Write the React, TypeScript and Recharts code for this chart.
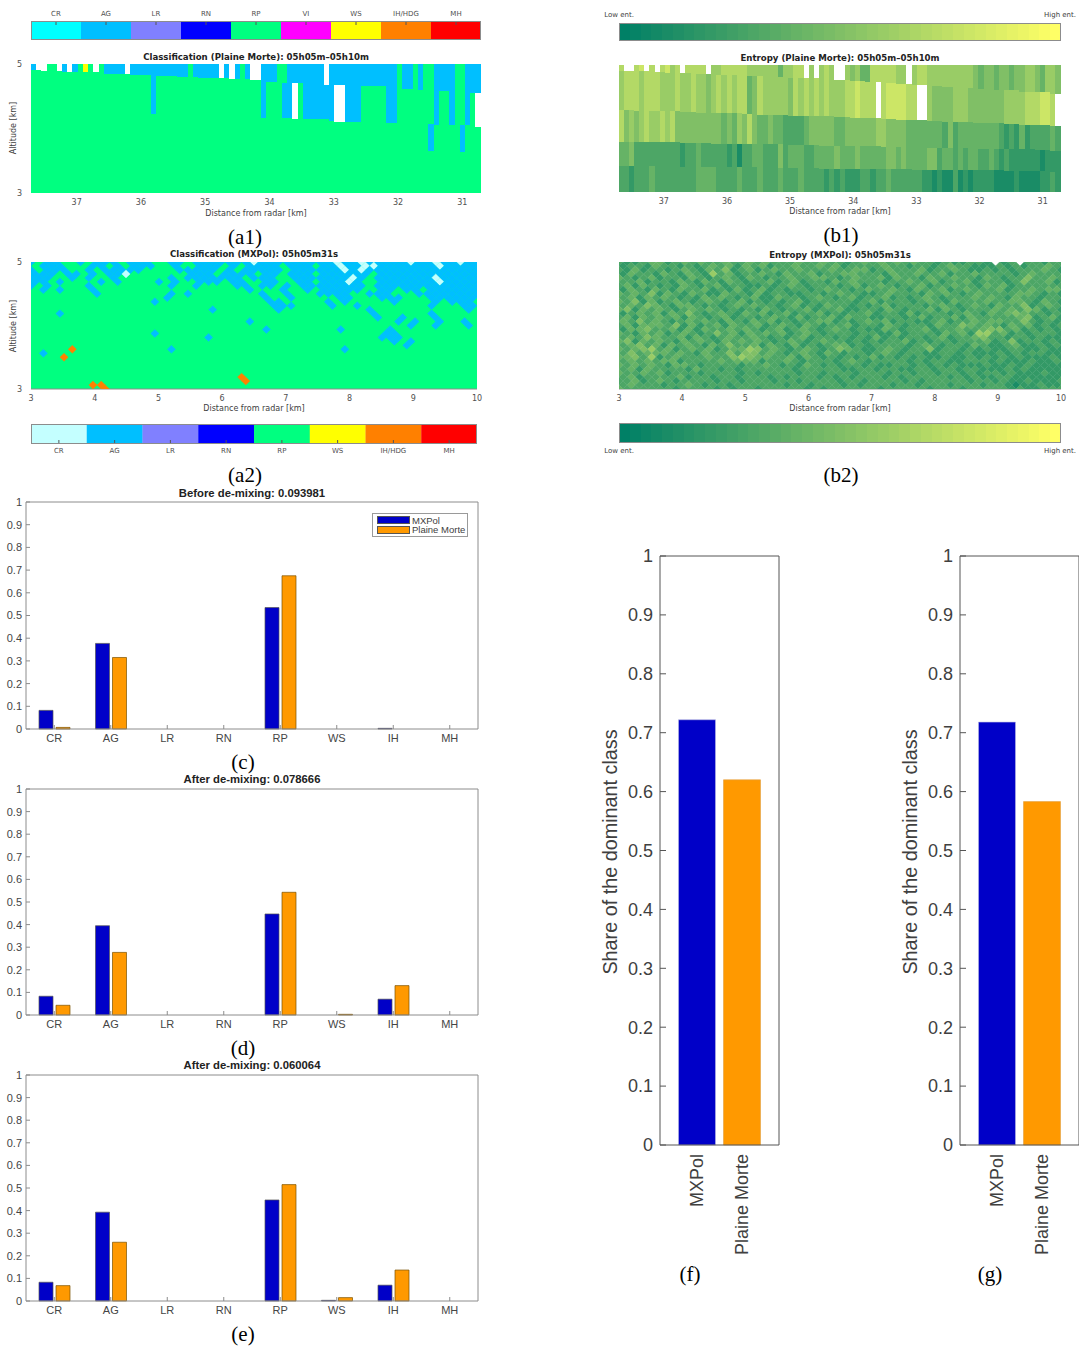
import React from 'react';
import {
    Bar, BarChart, Cell, ComposedChart, Legend, ReferenceArea, Scatter, ScatterChart, XAxis, YAxis,
} from 'recharts';

const SANS = '"Liberation Sans", Arial, sans-serif';
const MAP_FONT = '"DejaVu Sans", sans-serif';
const SERIF = '"Liberation Serif", serif';

const BLUE = '#0000c8';
const ORANGE = '#ff9900';

const classColors: Record<string, string> = {
    CR: '#00ffff', AG: '#00bfff', LR: '#8080ff', RN: '#0000ff', RP: '#00ff80',
    VI: '#ff00ff', WS: '#ffff00', 'IH/HDG': '#ff8000', MH: '#ff0000',
};
const PALE_CR = '#c4ffff';

const legendTop = ['CR', 'AG', 'LR', 'RN', 'RP', 'VI', 'WS', 'IH/HDG', 'MH'];
const legendBottom = ['CR', 'AG', 'LR', 'RN', 'RP', 'WS', 'IH/HDG', 'MH'];

const categories = ['CR', 'AG', 'LR', 'RN', 'RP', 'WS', 'IH', 'MH'];
const mxpolC = [0.082, 0.377, 0, 0, 0.535, 0, 0.003, 0];
const plaineC = [0.007, 0.315, 0, 0, 0.675, 0, 0, 0];
const mxpolD = [0.083, 0.395, 0, 0, 0.447, 0, 0.07, 0];
const plaineD = [0.043, 0.277, 0, 0, 0.543, 0.003, 0.13, 0];
const mxpolE = [0.083, 0.393, 0, 0, 0.447, 0.003, 0.07, 0];
const plaineE = [0.068, 0.26, 0, 0, 0.515, 0.015, 0.137, 0];

const radars = ['MXPol', 'Plaine Morte'];
const shareF = [0.722, 0.62];
const shareG = [0.718, 0.583];

const unitTicks = [0, 0.1, 0.2, 0.3, 0.4, 0.5, 0.6, 0.7, 0.8, 0.9, 1];
const farTicks = [37, 36, 35, 34, 33, 32, 31];
const nearTicks = [3, 4, 5, 6, 7, 8, 9, 10];

// colour bar steps of the entropy scale
const rampSteps = [
    0, 0.025, 0.05, 0.075, 0.1, 0.125, 0.15, 0.175, 0.2, 0.225, 0.25, 0.275, 0.3, 0.325, 0.35, 0.375,
    0.4, 0.425, 0.45, 0.475, 0.5, 0.525, 0.55, 0.575, 0.6, 0.625, 0.65, 0.675, 0.7, 0.725, 0.75, 0.775,
    0.8, 0.825, 0.85, 0.875, 0.9, 0.925, 0.95, 0.975, 1,
];

// (a1) one entry per ray, bottom-up: class and altitude of the top of the run. W = no data
const a1Rays: [string, number][][] = [
    [['RP', 4.91], ['AG', 5]], [['RP', 4.91], ['W', 5]], [['RP', 4.89], ['W', 5]], [['RP', 5]], [['RP', 5]],
    [['RP', 4.89], ['W', 5]], [['RP', 4.88], ['AG', 5]], [['RP', 4.88], ['W', 5]], [['RP', 4.88], ['AG', 5]], [['RP', 5]],
    [['RP', 4.87], ['WS', 5]], [['RP', 5]], [['RP', 4.87], ['W', 5]], [['RP', 5]], [['RP', 4.85], ['AG', 5]],
    [['RP', 4.85], ['AG', 5]], [['RP', 4.85], ['AG', 5]], [['RP', 4.85], ['AG', 5]], [['RP', 4.85], ['W', 5]], [['RP', 4.83], ['AG', 5]],
    [['RP', 4.83], ['AG', 5]], [['RP', 4.83], ['AG', 5]], [['RP', 4.83], ['AG', 5]], [['RP', 4.22], ['AG', 5]], [['RP', 4.81], ['AG', 5]],
    [['RP', 4.81], ['AG', 5]], [['RP', 4.81], ['AG', 5]], [['RP', 4.81], ['AG', 5]], [['RP', 4.8], ['AG', 5]], [['RP', 4.8], ['AG', 5]],
    [['RP', 5]], [['RP', 4.8], ['AG', 5]], [['RP', 4.79], ['AG', 5]], [['RP', 4.79], ['AG', 5]], [['RP', 4.79], ['AG', 5]],
    [['RP', 4.79], ['AG', 5]], [['RP', 4.78], ['W', 5]], [['RP', 4.78], ['AG', 5]], [['RP', 4.77], ['W', 5]], [['RP', 4.77], ['AG', 5]],
    [['RP', 5]], [['RP', 4.76], ['AG', 5]], [['RP', 4.75], ['W', 5]], [['RP', 4.75], ['W', 5]], [['RP', 4.16], ['AG', 5]],
    [['RP', 4.72], ['AG', 5]], [['RP', 4.72], ['AG', 5]], [['RP', 5]], [['RP', 4.16], ['AG', 4.7], ['RP', 5]], [['RP', 4.16], ['AG', 5]],
    [['RP', 4.15], ['W', 4.71], ['AG', 5]], [['RP', 4.71], ['AG', 5]], [['RP', 4.14], ['AG', 5]], [['RP', 4.14], ['AG', 5]], [['RP', 4.14], ['AG', 5]],
    [['RP', 4.14], ['AG', 5]], [['RP', 4.14], ['AG', 4.68], ['W', 5]], [['RP', 4.12], ['AG', 5]], [['RP', 4.1], ['W', 4.67], ['AG', 5]], [['RP', 4.1], ['W', 4.67], ['AG', 5]],
    [['RP', 4.1], ['AG', 5]], [['RP', 4.1], ['AG', 5]], [['RP', 4.1], ['AG', 5]], [['RP', 4.66], ['AG', 5]], [['RP', 4.66], ['AG', 5]],
    [['RP', 4.66], ['AG', 5]], [['RP', 4.66], ['AG', 5]], [['RP', 4.66], ['AG', 5]], [['RP', 4.09], ['AG', 5]], [['RP', 4.09], ['AG', 5]],
    [['RP', 5]], [['RP', 4.61], ['AG', 5]], [['RP', 4.61], ['AG', 5]], [['RP', 5]], [['RP', 4.6], ['AG', 5]],
    [['RP', 5]], [['RP', 3.65], ['AG', 4.07], ['RP', 5]], [['RP', 4.05], ['AG', 5]], [['RP', 4.58], ['AG', 5]], [['RP', 4.58], ['AG', 5]],
    [['RP', 4.05], ['AG', 5]], [['RP', 5]], [['RP', 3.64], ['AG', 4.05], ['RP', 5]], [['RP', 4.05], ['AG', 5]], [['RP', 4.55], ['AG', 5]],
    [['RP', 4.03], ['W', 4.55], ['AG', 5]],
];

// (b1) entropy per ray in tenths, one string per height band, top band first. w = no data
const b1Bands = [
    '7ww78w7w78 67w7777w66 7777766666 6466 77w6w6 76ww656447 777766w677 6666666665 4554554556 654665',
    '6777677766 6766766567 6767745766 6665767676 7666778777 w7888877ww 6555566655 5555566667 77887w',
    '7565676676 7555555555 4546575445 4433334555 5544555555 6655554444 4443534444 4444323242 333343',
    '4453333333 3323343333 3231334433 3534443344 4454445444 4455454444 5534434344 3343232222 221222',
    '3323334333 3333344443 3334333433 3433343333 2323222332 3343333332 2121131212 2221111211 112232',
];
// altitude of the band bottoms, read every three rays from the left
const b1BandBottoms = [
    [4.91, 4.9, 4.89, 4.88, 4.87, 4.86, 4.85, 4.84, 4.83, 4.82, 4.81, 4.8, 4.79, 4.77, 4.76, 4.75, 4.73, 4.72, 4.7, 4.68, 4.67, 4.65, 4.64, 4.62, 4.61, 4.6, 4.58, 4.57, 4.55],
    [4.29, 4.28, 4.28, 4.27, 4.26, 4.25, 4.25, 4.24, 4.23, 4.22, 4.21, 4.2, 4.2, 4.19, 4.18, 4.17, 4.16, 4.15, 4.14, 4.13, 4.12, 4.11, 4.1, 4.09, 4.08, 4.07, 4.06, 4.05, 4.04],
    [3.79, 3.79, 3.78, 3.78, 3.77, 3.77, 3.76, 3.76, 3.76, 3.75, 3.75, 3.74, 3.74, 3.73, 3.73, 3.72, 3.72, 3.71, 3.71, 3.7, 3.7, 3.69, 3.69, 3.68, 3.68, 3.67, 3.67, 3.66, 3.65],
    [3.41, 3.41, 3.41, 3.4, 3.4, 3.4, 3.39, 3.39, 3.39, 3.38, 3.38, 3.38, 3.38, 3.37, 3.37, 3.37, 3.36, 3.36, 3.36, 3.35, 3.35, 3.35, 3.34, 3.34, 3.34, 3.33, 3.33, 3.33, 3.32],
];

// (a2) staggered tiles, top row first. a = AG, c = CR, o = IH, rest RP
const a2Rows = [
    'a.aa. .a.aa a.aaa ..aa. aaaaa aacaa aaaaa aacaa caaaa acaac aacaa',
    '.aaa. ..aa. a.aaa ..a.. aaa.a .aaaa .aaa. aacaa ccaaa aaaac aaaa',
    'a.aaa ..a.a aaaa. ...aa aaa.a .aaaa a.aaa aaaca caaaa aaaaa aaaaa',
    'aaa.a a.a.a ac... ....a aa.aa aa.aa .aaa. aaaaa a.aaa aaaaa aaaa',
    'aaa.. a.a.. a.... ..a.a aaaaa a.aaa ..aaa aaaac a.aaa aaaac aaaaa',
    'aa.a. ...a. a.... a.a.. aaa.a a..aa ..aa. aaaca ..aaa aaaac aaaa',
    'a.a.. ..a.. ..... ..a.. a.... aa.aa .a.aa aaaaa a.aaa aaaaa aaaaa',
    '.a.a. ..a.. ..... ..... ..... .a... a..a. aaaaa ..aa. aa.aa aaaa',
    '..... ...a. ..... ..a.a ..... ...a. .a... aaaa. .aaa. ..aaa aaaaa',
    '..... ..... ..... .a... ..... ...a. .a... ..aa. ..aaa ...aa aaaa',
    '..... ..... ..... a.... ..... ....a a.... .a.a. ....a ....a .aaa.',
    '..... ..... ..... ..... ..... ....a aa... .a..a ..... ...a. ..aa',
    '..... ..... ..... ..... ..a.. ..... a.... ..... .a... ..... ...a.',
    '...a. ..... ..... ..... ..... ..... ..... ..... .a... ...a. ....',
    '..... ..... ..... ..... ..... ..... ..... ..... ..a.. a...a .....',
    '..... ..... ..... ..... ..... .a... ..... ..... ....a .a..a ..a.',
    '..... ..... ..... ..... ..... ..... ..... ..... ..... .a..a ...a.',
    '..... ..... ..... ..... ..... ...a. ..... ..a.. ...a. ..... ....',
    '..... ..... ..... a.... ..... ..... ..... ..... ...aa ..... .....',
    '..... ..... ..... ..... .a... ..... ..... ..... ..aaa ..... ....',
    '..... ..... ..... ..... ..... ..... ..... ..... ....a .a... .....',
    '..... ..... ..... ..... ..... ..... ..... ..... ..... a.... ....',
    '..... o.... ..... ..a.. ..... ..... ..... ...a. ..... ..... .....',
    '.a... ..... ..... ..... ..... ..... ..... ..... ..... ..... ....',
    '....o',
    '', '', '', '',
    '..... ..... ..... ..... ..... o',
    '..... ..... ..... ..... ..... .o',
    '..... ..oo.',
    '..... ....o',
];

// (b2) entropy in tenths on the same tiles. w = no data
const b2Rows = [
    '32234 42343 43343 34343 33433 43323 43434 34332 32233 2w23w 33233',
    '23324 33232 34342 43423 34334 34233 33433 23323 43322 23232 3343',
    '32423 32343 24352 34234 33433 34334 42343 33423 34322 32323 33432',
    '24332 43243 26342 33432 43342 33443 33243 34334 23343 33323 4333',
    '43234 23324 32343 24323 34334 43234 33424 33243 34332 43233 53343',
    '33423 32432 43243 23342 34233 24343 33233 43342 33423 33235 3342',
    '34243 23243 23423 32232 34323 33234 23432 33423 34332 43423 33333',
    '24324 32433 42324 23423 23323 43323 43343 24334 23433 34233 4344',
    '43435 24324 32243 32423 32233 23433 22343 33243 43234 33334 43232',
    '34243 43232 43432 34224 33234 32342 33423 23432 33343 43243 3233',
    '43524 23432 34323 42323 23423 33332 34233 32343 24333 43344 32432',
    '34354 32443 23234 34332 34232 43323 23423 33234 32343 24335 2343',
    '45243 43234 34323 23243 23342 33422 33243 23342 43233 34343 54232',
    '23434 24353 23432 43423 42334 23233 42332 42333 23432 43454 3323',
    '34243 43424 32342 33234 32423 34243 32233 23423 34243 33334 52342',
    '43534 32343 43243 24342 32334 42323 43423 32234 23343 44335 3232',
    '34244 43524 23424 33423 43243 23342 33243 23324 33543 43243 42323',
    '24453 34242 43343 43234 23432 34323 22432 33423 34334 55342 3232',
    '43243 42343 23534 24343 42343 23332 33224 23332 43426 63423 23332',
    '34354 33424 32343 34323 23423 32323 24232 33234 23345 33233 2322',
    '45243 43243 43243 43432 34323 43323 23233 42323 32333 42352 33232',
    '34534 24343 24353 34243 24232 34423 23333 23432 33243 22342 2323',
    '43456 34234 34234 46534 32343 23543 22343 23352 33232 32233 22322',
    '35344 43432 43353 55343 23432 43233 23432 33223 32322 23232 3322',
    '44536 23433 34335 65443 34243 23232 34232 32322 32232 32323 22232',
    '34343 44233 33434 44233 43233 32343 23333 23233 22333 23222 3223',
    '43434 32443 23333 23343 23243 23233 23223 32323 23222 32232 32222',
    '34243 33324 33232 33333 32333 33223 32332 23323 32332 22323 2222',
    '43343 42333 23333 23233 33233 23332 33323 32332 33232 33232 22322',
    '34233 33423 32332 33323 23332 32323 33232 33333 23232 23322 2222',
    '33423 43233 33233 23332 33233 33233 23333 23233 33323 32322 32223',
    '34333 23343 23323 33333 23323 33232 33323 32333 23332 33212 2322',
    '43333 33233 33232 33233 33323 23333 33233 33323 33233 33323 22333',
];

const summer = (t: number) =>
    `rgb(${Math.round(t * 255)},${Math.round((0.5 + 0.5 * t) * 255)},102)`;

const FAR_LEFT = 37.71;
const FAR_RIGHT = 30.71;
const RAY_COUNT = a1Rays.length;
const rayKm = (i: number) => FAR_LEFT - ((i + 0.5) * (FAR_LEFT - FAR_RIGHT)) / RAY_COUNT;

const a1Table = a1Rays.map((runs, i) => {
    const row: Record<string, number | string> = { km: rayKm(i) };
    let base = 3;
    runs.forEach(([cls, top], k) => {
        row[`s${k}`] = top - base;
        row[`c${k}`] = cls === 'W' ? '#ffffff' : classColors[cls];
        base = top;
    });
    return row;
});

const bandStrings = b1Bands.map((b) => b.replace(/ /g, ''));
const b1Table = Array.from({ length: RAY_COUNT }, (_, i) => {
    const row: Record<string, number | string> = { km: rayKm(i) };
    const group = Math.floor(i / 3);
    const edges = [3, ...[...b1BandBottoms].reverse().map((b) => b[group]), 5];
    [4, 3, 2, 1, 0].forEach((band, k) => {
        const ch = bandStrings[band][i] ?? '3';
        row[`s${k}`] = edges[k + 1] - edges[k];
        row[`c${k}`] = ch === 'w' ? '#ffffff' : summer(Number(ch) / 10);
    });
    return row;
});

const tiles = (rows: string[]) => {
    const out: { x: number; y: number; v: string }[] = [];
    rows.forEach((line, r) => {
        const chars = line.replace(/ /g, '');
        const n = r % 2 === 0 ? 55 : 54;
        for (let c = 0; c < n; c += 1) {
            const col = r % 2 === 0 ? c : c + 0.5;
            out.push({ x: 3 + (col * 7) / 54, y: 5 - (r * 2) / 32, v: chars[c] ?? '.' });
        }
    });
    return out;
};

const a2Tiles = tiles(a2Rows).filter((t) => t.v !== '.');
const b2Tiles = tiles(b2Rows);

const a2Fill = (v: string) => (v === 'a' ? classColors.AG : v === 'c' ? PALE_CR : classColors['IH/HDG']);
const b2Fill = (v: string) => (v === 'w' ? '#ffffff' : summer(Number(v) / 10));

function Txt({ x, y, size = 8, bold, font = MAP_FONT, color = '#404040', rot = 0, children }: any) {
    return (
        <div
            style={{
                position: 'absolute', left: x, top: y, transform: `translate(-50%,-50%) rotate(${rot}deg)`,
                fontFamily: font, fontSize: size, fontWeight: bold ? 700 : 400, color, whiteSpace: 'nowrap', lineHeight: 1,
            }}
        >
            {children}
        </div>
    );
}

const Caption = ({ x, y, children }: any) => (
    <Txt x={x} y={y} size={21} font={SERIF} color="#000">{children}</Txt>
);

function ClassBar({ x, y, w, h, names, pale, labelsOnTop }: any) {
    const data = names.map((name: string) => ({ name, one: 1 }));
    const color = (n: string) => (pale && n === 'CR' ? PALE_CR : classColors[n]);
    const mt = labelsOnTop ? 14 : 0;
    const mb = labelsOnTop ? 0 : 14;
    return (
        <div style={{ position: 'absolute', left: x, top: y - mt }}>
            <BarChart width={w} height={h + mt + mb} data={data} margin={{ top: 0, right: 0, bottom: 0, left: 0 }} barCategoryGap={0}>
                <YAxis hide domain={[0, 1]} />
                <Bar dataKey="one" isAnimationActive={false}>
                    {data.map((d: any) => <Cell key={d.name} fill={color(d.name)} />)}
                </Bar>
                <XAxis
                    dataKey="name"
                    orientation={labelsOnTop ? 'top' : 'bottom'}
                    height={labelsOnTop ? mt : mb}
                    interval={0}
                    axisLine={false}
                    tickSize={-4}
                    tickMargin={labelsOnTop ? 9 : 8}
                    tickLine={{ stroke: '#555' }}
                    tick={{ fontSize: 7, fontFamily: MAP_FONT, fill: '#505050' }}
                />
            </BarChart>
            <div style={{ position: 'absolute', left: 0, top: mt, width: w, height: h, boxSizing: 'border-box', border: '1px solid #8c8c8c' }} />
        </div>
    );
}

function RampBar({ x, y, w, h }: any) {
    const data = rampSteps.map((t) => ({ t, one: 1 }));
    return (
        <div style={{ position: 'absolute', left: x, top: y }}>
            <BarChart width={w} height={h} data={data} margin={{ top: 0, right: 0, bottom: 0, left: 0 }} barCategoryGap={0}>
                <XAxis hide dataKey="t" />
                <YAxis hide domain={[0, 1]} />
                <Bar dataKey="one" isAnimationActive={false} shape={(p: any) => (
                    <rect x={p.x} y={p.y} width={p.width + 0.6} height={p.height} fill={summer(p.payload.t)} shapeRendering="crispEdges" />
                )} />
            </BarChart>
            <div style={{ position: 'absolute', left: 0, top: 0, width: w, height: h, boxSizing: 'border-box', border: '1px solid #8c8c8c' }} />
        </div>
    );
}

const rayShape = (k: number) => (p: any) => {
    const fill = p.payload[`c${k}`];
    if (!fill || !p.height) return <g />;
    return <rect x={p.x - 0.4} y={p.y - 0.3} width={p.width + 0.8} height={p.height + 0.3} fill={fill} shapeRendering="crispEdges" />;
};

function RayMap({ x, y, w, h, table, segments, showY, axisColor }: any) {
    const ml = 24;
    const mt = 6;
    return (
        <div style={{ position: 'absolute', left: x - ml, top: y - mt }}>
            <ComposedChart width={w + ml + 2} height={h + mt + 16} data={table} margin={{ top: mt, right: 2, bottom: 0, left: 0 }}>
                {Array.from({ length: segments }, (_, k) => (
                    <Bar key={k} dataKey={`s${k}`} stackId="m" barSize={w / RAY_COUNT} isAnimationActive={false} shape={rayShape(k)} />
                ))}
                <XAxis
                    dataKey="km" type="number" reversed domain={[FAR_RIGHT, FAR_LEFT]} ticks={farTicks} interval={0}
                    height={16} axisLine={false} tickLine={false} tickMargin={0}
                    tick={{ fontSize: 8, fontFamily: MAP_FONT, fill: axisColor }}
                />
                <YAxis
                    width={ml} domain={[0, 2]} ticks={[0, 2]} interval={0} axisLine={false} tickLine={false} tickMargin={3}
                    tick={showY ? { fontSize: 8, fontFamily: MAP_FONT, fill: axisColor } : false}
                    tickFormatter={(v: number) => String(v + 3)}
                />
            </ComposedChart>
        </div>
    );
}

const tileShape = (w: number, h: number, fill: (v: string) => string) => (p: any) => {
    const c = fill(p.payload.v);
    return (
        <polygon
            points={`${p.cx},${p.cy - h / 2} ${p.cx + w / 2},${p.cy} ${p.cx},${p.cy + h / 2} ${p.cx - w / 2},${p.cy}`}
            fill={c} stroke={c} strokeWidth={0.4}
        />
    );
};

function TileMap({ x, y, w, h, data, fill, base, showY }: any) {
    const ml = 24;
    const mt = 6;
    return (
        <div style={{ position: 'absolute', left: x - ml, top: y - mt }}>
            <ScatterChart width={w + ml + 10} height={h + mt + 16} margin={{ top: mt, right: 10, bottom: 0, left: 0 }}>
                {base && <ReferenceArea x1={3} x2={10} y1={3} y2={5} fill={base} fillOpacity={1} stroke="none" />}
                <XAxis
                    dataKey="x" type="number" domain={[3, 10]} ticks={nearTicks} interval={0} allowDataOverflow
                    height={16} axisLine={{ stroke: '#8c8c8c' }} tickLine={false} tickMargin={0}
                    tick={{ fontSize: 8, fontFamily: MAP_FONT, fill: '#505050' }}
                />
                <YAxis
                    dataKey="y" type="number" width={ml} domain={[3, 5]} ticks={[3, 5]} interval={0} allowDataOverflow
                    axisLine={false} tickLine={false} tickMargin={3}
                    tick={showY ? { fontSize: 8, fontFamily: MAP_FONT, fill: '#505050' } : false}
                />
                <Scatter data={data} isAnimationActive={false} shape={tileShape(w / 54, (h * 2) / 32, fill)} />
            </ScatterChart>
        </div>
    );
}

const LegendBox = () => (
    <div style={{ width: 96, height: 24, boxSizing: 'border-box', border: '1px solid #9a9a9a', background: '#fff', position: 'relative', fontFamily: SANS, fontSize: 9.5, color: '#404040', lineHeight: '9.5px' }}>
        {[['MXPol', BLUE], ['Plaine Morte', ORANGE]].map(([name, color], i) => (
            <div key={name} style={{ position: 'absolute', left: 4, top: 1.5 + i * 9.5, display: 'flex', alignItems: 'center', whiteSpace: 'nowrap' }}>
                <span style={{ display: 'inline-block', width: 31, height: 6, background: color, border: '0.5px solid #555', marginRight: 2 }} />
                {name}
            </div>
        ))}
    </div>
);

function GroupedBars({ y, h, mx, pm, showLegend }: any) {
    const left = 26;
    const w = 452;
    const ml = 26;
    const mt = 6;
    const mb = 20;
    const data = categories.map((cat, i) => ({ cat, mx: mx[i], pm: pm[i] }));
    const axis = '#8c8c8c';
    const tick = { fontSize: 11, fontFamily: SANS, fill: '#454545' };
    return (
        <div style={{ position: 'absolute', left: left - ml, top: y - mt }}>
            <BarChart
                width={w + ml + 2} height={h + mt + mb} data={data}
                margin={{ top: mt - 1, right: 1, bottom: 0, left: 0 }} barCategoryGap="47%" barGap={3}
            >
                <Bar dataKey="mx" name="MXPol" fill={BLUE} stroke="#555" strokeWidth={0.7} barSize={14} isAnimationActive={false} />
                <Bar dataKey="pm" name="Plaine Morte" fill={ORANGE} stroke="#7a5200" strokeWidth={0.7} barSize={14} isAnimationActive={false} />
                <XAxis dataKey="cat" height={mb} interval={0} tick={tick} tickSize={-4} tickMargin={9} stroke={axis} />
                <YAxis width={ml} domain={[0, 1]} ticks={unitTicks} interval={0} tick={tick} tickSize={-4} tickMargin={8} stroke={axis} />
                <XAxis xAxisId="top" orientation="top" dataKey="cat" height={1} interval={0} tick={false} tickSize={-4} stroke={axis} />
                <YAxis yAxisId="right" orientation="right" width={1} domain={[0, 1]} ticks={unitTicks} interval={0} tick={false} tickSize={-4} stroke={axis} />
                {showLegend && (
                    <Legend
                        layout="vertical" align="center" verticalAlign="middle"
                        wrapperStyle={{ left: 372 - left + ml, top: 513 - y + mt, width: 96 }}
                        content={() => <LegendBox />}
                    />
                )}
            </BarChart>
        </div>
    );
}

const RadarTick = ({ x, y, payload }: any) => (
    <text
        x={0} y={0} transform={`translate(${x + 6},${y + 1}) rotate(-90)`} textAnchor="end"
        fontFamily={SANS} fontSize={18} fill="#404040"
    >
        {payload.value}
    </text>
);

function ShareBars({ x, y, share }: any) {
    const w = 118;
    const h = 589;
    const ml = 50;
    const data = radars.map((name, i) => ({ name, share: share[i] }));
    const axis = '#555';
    return (
        <div style={{ position: 'absolute', left: x - ml, top: y - 10 }}>
            <BarChart width={w + ml + 2} height={h + 10 + 120} data={data} margin={{ top: 9, right: 0, bottom: 0, left: 0 }}>
                <Bar dataKey="share" barSize={37} isAnimationActive={false} strokeWidth={0.6}>
                    {data.map((d, i) => <Cell key={d.name} fill={i === 0 ? BLUE : ORANGE} stroke={i === 0 ? '#b8b8e0' : '#e0a040'} />)}
                </Bar>
                <XAxis dataKey="name" height={120} interval={0} padding={{ left: 14.5, right: 14.5 }} tick={<RadarTick />} tickLine={false} stroke={axis} />
                <YAxis
                    width={ml} domain={[0, 1]} ticks={unitTicks} interval={0} tickSize={-6} tickMargin={13} stroke={axis}
                    tick={{ fontSize: 18, fontFamily: SANS, fill: '#404040' }}
                />
                <XAxis xAxisId="top" orientation="top" dataKey="name" height={1} interval={0} padding={{ left: 14.5, right: 14.5 }} tick={false} tickSize={-4} stroke={axis} />
                <YAxis yAxisId="right" orientation="right" width={1} domain={[0, 1]} ticks={unitTicks} interval={0} tick={false} tickSize={-6} stroke={axis} />
            </BarChart>
        </div>
    );
}

export default function App() {
    return (
        <div style={{ position: 'absolute', left: 0, top: 0, width: 1079, height: 1349, background: '#fff', overflow: 'hidden' }}>
            <ClassBar x={31} y={21} w={450} h={19} names={legendTop} labelsOnTop />
            <Txt x={256} y={57} size={8.6} bold color="#222">Classification (Plaine Morte): 05h05m–05h10m</Txt>
            <RayMap x={31} y={64} w={450} h={129} table={a1Table} segments={3} showY axisColor="#505050" />
            <Txt x={14} y={128} rot={-90}>Altitude [km]</Txt>
            <Txt x={256} y={214}>Distance from radar [km]</Txt>
            <Caption x={245} y={237}>(a1)</Caption>

            <Txt x={254} y={254} size={8.6} bold color="#222">Classification (MXPol): 05h05m31s</Txt>
            <TileMap x={31} y={262} w={446} h={127} data={a2Tiles} fill={a2Fill} base={classColors.RP} showY />
            <Txt x={14} y={326} rot={-90}>Altitude [km]</Txt>
            <Txt x={254} y={409}>Distance from radar [km]</Txt>
            <ClassBar x={31} y={424} w={446} h={20} names={legendBottom} pale />
            <Caption x={245} y={475}>(a2)</Caption>

            <Txt x={619} y={15} size={7}>Low ent.</Txt>
            <Txt x={1060} y={15} size={7}>High ent.</Txt>
            <RampBar x={619} y={23} w={442} h={18} />
            <Txt x={840} y={58} size={8.6} bold color="#222">Entropy (Plaine Morte): 05h05m–05h10m</Txt>
            <RayMap x={619} y={65} w={442} h={127} table={b1Table} segments={5} axisColor="#505050" />
            <Txt x={840} y={212}>Distance from radar [km]</Txt>
            <Caption x={841} y={235}>(b1)</Caption>

            <Txt x={840} y={255} size={8.6} bold color="#222">Entropy (MXPol): 05h05m31s</Txt>
            <TileMap x={619} y={262} w={442} h={127} data={b2Tiles} fill={b2Fill} />
            <Txt x={840} y={409}>Distance from radar [km]</Txt>
            <RampBar x={619} y={423} w={442} h={20} />
            <Txt x={619} y={451} size={7}>Low ent.</Txt>
            <Txt x={1060} y={451} size={7}>High ent.</Txt>
            <Caption x={841} y={475}>(b2)</Caption>

            <Txt x={252} y={494} size={11.3} bold font={SANS} color="#222">Before de-mixing: 0.093981</Txt>
            <GroupedBars y={502} h={227} mx={mxpolC} pm={plaineC} showLegend />
            <Caption x={243} y={762}>(c)</Caption>

            <Txt x={252} y={780} size={11.3} bold font={SANS} color="#222">After de-mixing: 0.078666</Txt>
            <GroupedBars y={789} h={226} mx={mxpolD} pm={plaineD} />
            <Caption x={243} y={1048}>(d)</Caption>

            <Txt x={252} y={1066} size={11.3} bold font={SANS} color="#222">After de-mixing: 0.060064</Txt>
            <GroupedBars y={1075} h={226} mx={mxpolE} pm={plaineE} />
            <Caption x={243} y={1334}>(e)</Caption>

            <ShareBars x={660} y={556} share={shareF} />
            <Txt x={611} y={852} size={19.8} rot={-90} font={SANS}>Share of the dominant class</Txt>
            <Caption x={690} y={1274}>(f)</Caption>

            <ShareBars x={960} y={556} share={shareG} />
            <Txt x={911} y={852} size={19.8} rot={-90} font={SANS}>Share of the dominant class</Txt>
            <Caption x={990} y={1274}>(g)</Caption>
        </div>
    );
}
